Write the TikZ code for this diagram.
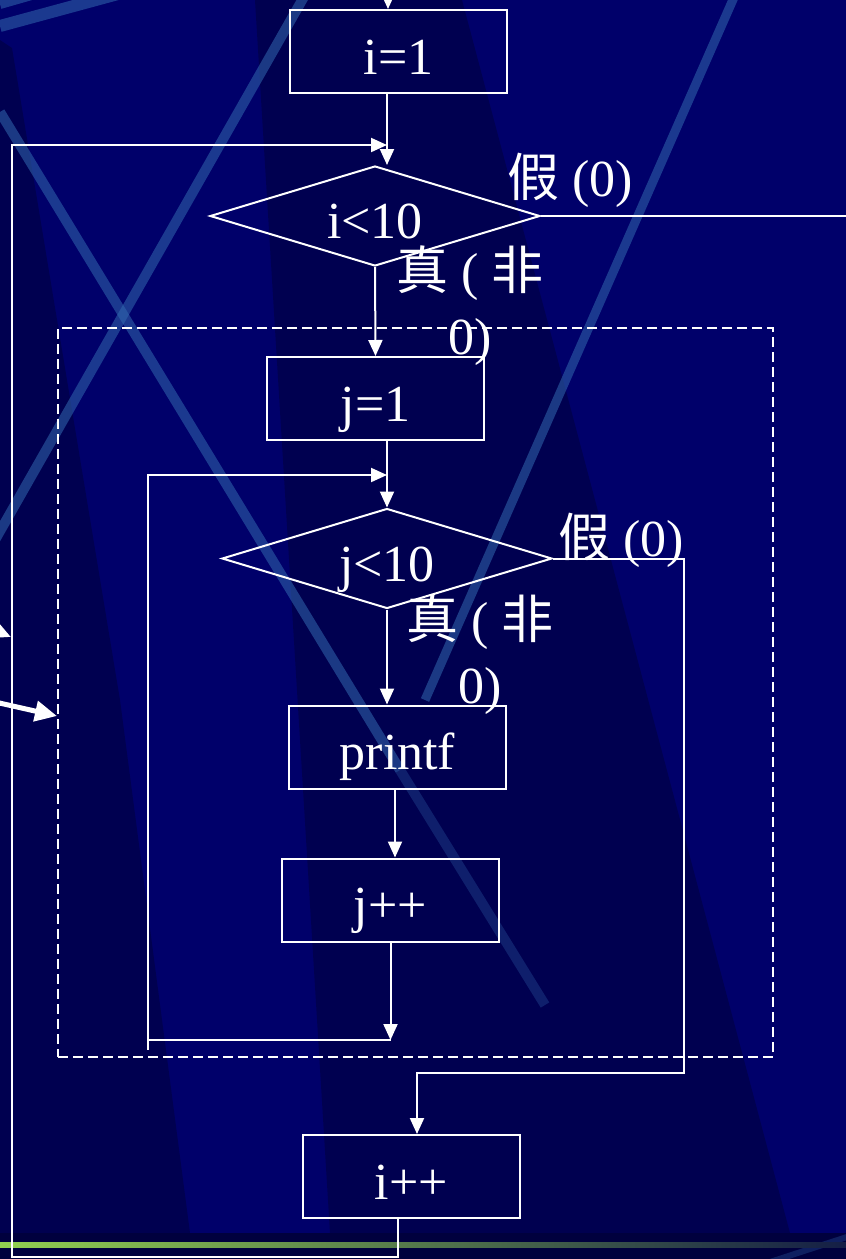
\documentclass[tikz,border=0pt]{standalone}
\usepackage{fontspec}
\setmainfont{Liberation Serif}
\newfontfamily\cjk{Noto Sans CJK SC}
\usepackage{tikz}
\usetikzlibrary{shapes.geometric,arrows.meta}

\definecolor{navy}{RGB}{0,0,106}
\definecolor{deepnavy}{RGB}{0,0,80}
\definecolor{footer}{RGB}{0,0,62}
\definecolor{streak}{RGB}{50,105,175}
\definecolor{lime}{RGB}{146,208,80}
\definecolor{fade}{RGB}{20,30,70}
\newcommand\flowfont{\fontsize{52}{65}\selectfont}

\begin{document}
\begin{tikzpicture}[x=1pt,y=-1pt,
  >={Triangle[length=16pt,width=14pt]},
  flow/.style={draw=white,line width=2pt},
  box/.style={flow,rectangle,minimum width=217pt,minimum height=83pt,inner sep=0pt,
    text=white,font=\flowfont,text height=47pt,text depth=2pt},
  test/.style={flow,diamond,aspect=3.3,minimum width=330pt,minimum height=100pt,inner sep=0pt,
    text=white,font=\flowfont,text height=47pt,text depth=2pt},
  frame/.style={draw=white,line width=1.8pt,dash pattern=on 10pt off 5pt,
    minimum width=715pt,minimum height=729pt},
  tag/.style={text=white,font=\flowfont,align=center,inner sep=0pt},
  band/.style={streak,opacity=0.55,line width=10pt},
  bigarrow/.style={white,line width=5pt,-{Triangle[length=22pt,width=20pt]}}]
  \useasboundingbox (0,0) rectangle (846,1259);
  \clip (0,0) rectangle (846,1259);

  % backdrop
  \fill[navy] (0,0) rectangle (846,1259);
  \fill[deepnavy] (255,0) -- (462,0) -- (790,1233) -- (330,1233) -- cycle;
  \fill[deepnavy] (0,40) -- (12,48) -- (120,700) -- (190,1233) -- (0,1233) -- cycle;
  \draw[band] (0,4) -- (70,-16);
  \draw[band,line width=12pt] (0,26) -- (140,-12);
  \draw[band] (-5,540) -- (305,-5);
  \draw[band] (0,112) -- (400,770);
  \draw[band,opacity=0.3] (400,770) -- (545,1005);
  \draw[band,line width=9pt] (735,-5) -- (425,700);
  \fill[footer] (0,1233) rectangle (846,1259);
  \draw[band,opacity=0.3,line width=6pt] (770,1262) -- (850,1236);
  \shade[left color=lime,right color=fade] (0,1242) rectangle (846,1247);

  \node[box] (init) at (398.5,51.5) {i=1};
  \node[test] (cond1) at (375,216) {i<10};
  \node[frame] (inner) at (415.5,692.5) {};
  \node[box] (jinit) at (375.5,398.5) {j=1};
  \node[test] (cond2) at (387,558.5) {j<10};
  \node[box] (print) at (397.5,747) {printf};
  \node[box] (jinc) at (390.5,900) {j++};
  \node[box] (iinc) at (411.5,1176.5) {i++};

  \node[tag] (no1) at (570,180) {{\cjk 假} (0)};
  \node[tag] (yes1) at (470,306) {{\cjk 真} ( {\cjk 非}\\0)};
  \node[tag] (no2) at (621,540) {{\cjk 假} (0)};
  \node[tag] (yes2) at (480,655) {{\cjk 真} ( {\cjk 非}\\0)};

  \coordinate (entry) at (388,-20);
  \coordinate (iexit) at (846,216);
  \coordinate (iback) at (12,1257);
  \coordinate (ijoin) at (387,145);
  \coordinate (jjoin) at (387,475);
  \coordinate (jend) at (390.5,1040);
  \coordinate (jback) at (148,1040);
  \coordinate (jexit) at (684,1073);

  \draw[flow,->] (entry) -- (entry |- init.north);
  \draw[flow,->] ([xshift=-11.5pt]init.south) -- ([xshift=-11.5pt]init.south |- cond1.north);
  \draw[flow] (cond1.east) -- (iexit);
  \draw[flow,->] (cond1.south) -- (jinit.north);
  \draw[flow,->] ([xshift=11.5pt]jinit.south) -- (cond2.north);
  \draw[flow,->] (cond2.south) -- (cond2.south |- print.north);
  \draw[flow,->] ([xshift=-2.5pt]print.south) -- ([xshift=-2.5pt]print.south |- jinc.north);
  \draw[flow,->] (jinc.south) -- (jend);
  \draw[flow,->] (jend) -- (jback) |- (jjoin);
  \draw[flow] (jback) -- ++(0,10);
  \draw[flow,->] (cond2.east) -| (jexit) -| ([xshift=5.5pt]iinc.north);
  \draw[flow,->] ([xshift=-13.5pt]iinc.south) |- (iback) |- (ijoin);

  % pointers at the left margin
  \coordinate (hint1) at (-45,613);
  \coordinate (hint1tip) at (11,637);
  \coordinate (hint2) at (-5,702);
  \coordinate (hint2tip) at (57,716);
  \draw[bigarrow] (hint1) -- (hint1tip);
  \draw[bigarrow] (hint2) -- (hint2tip);
\end{tikzpicture}
\end{document}
